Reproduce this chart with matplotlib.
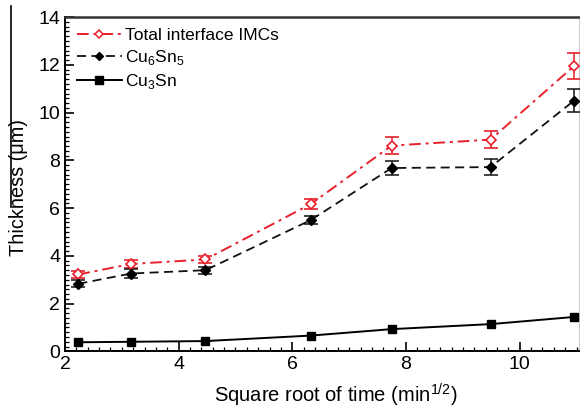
import numpy as np
import matplotlib
matplotlib.use("Agg")
import matplotlib.pyplot as plt
from matplotlib.ticker import MultipleLocator
from matplotlib.lines import Line2D

plt.rcParams['font.family'] = ['Liberation Sans', 'DejaVu Sans']
plt.rcParams['mathtext.fontset'] = 'custom'
plt.rcParams['mathtext.rm'] = 'Liberation Sans'

sqrt_time = [2.236, 3.162, 4.472, 6.325, 7.746, 9.487, 10.954]
total = [3.22, 3.66, 3.85, 6.17, 8.62, 8.87, 11.95]
total_err = [0.15, 0.17, 0.15, 0.2, 0.35, 0.35, 0.53]
cu6sn5 = [2.83, 3.26, 3.40, 5.5, 7.68, 7.72, 10.5]
cu6sn5_err = [0.15, 0.17, 0.15, 0.18, 0.3, 0.32, 0.48]
cu3sn = [0.38, 0.40, 0.43, 0.66, 0.93, 1.14, 1.44]
labels = ['Total interface IMCs', 'Cu$_6$Sn$_5$', 'Cu$_3$Sn']

red = '#e8202a'
ls_total = (0, (6, 2.5, 1.5, 2.5))
ls_cu6 = (0, (5, 3))

fig = plt.figure(figsize=(5.8, 4.09), dpi=100)
ax = fig.add_axes([0.112, 0.141, 0.886, 0.817])

ax.errorbar(sqrt_time, total, yerr=total_err, color=red, ls=ls_total, lw=1.4,
            marker='D', ms=5.5, mfc='white', mec=red, mew=1.2, capsize=5, elinewidth=1.1,
            capthick=1.1, zorder=3)
ax.errorbar(sqrt_time, cu6sn5, yerr=cu6sn5_err, color='#111111', ls=ls_cu6, lw=1.3,
            marker='D', ms=5, mfc='black', mec='black', capsize=5, elinewidth=1.1,
            capthick=1.1, zorder=3)
ax.plot(sqrt_time, cu3sn, color='black', ls='-', lw=1.4, marker='s', ms=6, zorder=3)

ax.set_xlim(2, 11.04)
ax.set_ylim(0, 14)
ax.xaxis.set_major_locator(MultipleLocator(2))
ax.xaxis.set_minor_locator(MultipleLocator(0.2))
ax.yaxis.set_major_locator(MultipleLocator(2))
ax.yaxis.set_minor_locator(MultipleLocator(0.2))
ax.tick_params(which='both', direction='in', labelsize=14, top=False, right=False)
ax.tick_params(which='major', length=6.5, width=1.2)
ax.tick_params(which='minor', length=3, width=0.9)
for s in ['left', 'bottom']:
    ax.spines[s].set_linewidth(1.4)
ax.spines['top'].set_linewidth(1.8)
ax.spines['top'].set_color('#333333')
ax.spines['right'].set_color('#cccccc')
ax.spines['right'].set_linewidth(0.8)

ax.set_xlabel('Square root of time (min$^{1/2}$)', fontsize=14.5)
ax.xaxis.set_label_coords(0.527, -0.092)
ax.set_ylabel('Thickness (\u03bcm)', fontsize=14.3)
ax.yaxis.set_label_coords(-0.071, 0.489)

handles = [
    Line2D([], [], color=red, ls=ls_total, lw=1.4, marker='D', ms=4.5, mfc='white', mec=red, mew=1.1),
    Line2D([], [], color='#111111', ls=ls_cu6, lw=1.3, marker='D', ms=4.5, mfc='black', mec='black'),
    Line2D([], [], color='black', ls='-', lw=1.4, marker='s', ms=5.5),
]
ax.legend(handles, labels, loc='upper left', frameon=False, fontsize=12.5,
          handlelength=2.6, handletextpad=0.15, labelspacing=0.3,
          bbox_to_anchor=(0.003, 1.0), borderaxespad=0.3, borderpad=0.3)

fig.add_artist(Line2D([0.019, 0.019], [0.985, 0.494], color='black', lw=1.2))

fig.savefig('out.png', dpi=100)
